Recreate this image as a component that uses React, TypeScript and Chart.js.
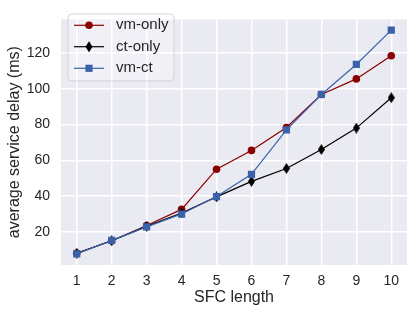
import React, { useEffect, useRef } from 'react';
import { Chart, registerables } from 'chart.js';

Chart.register(...registerables);

const sfcLength = [1, 2, 3, 4, 5, 6, 7, 8, 9, 10];
const vmOnly = [8, 15, 23.5, 32.5, 55, 65.5, 78.3, 96.8, 105.5, 118.5];
const ctOnly = [8, 15, 23, 30.5, 39.5, 48.2, 55.4, 66, 78, 95];
const vmCt = [7.6, 15.2, 22.7, 29.9, 39.7, 52.1, 77, 96.8, 113.6, 132.8];
const yTicks = [20, 40, 60, 80, 100, 120];
const seriesNames = ['vm-only', 'ct-only', 'vm-ct'];
const seriesColors = ['#8b0000', '#000000', '#3b62a9'];
const seriesMarkers = ['circle', 'thinDiamond', 'rect'];

const FONT = '"Liberation Sans", Arial, sans-serif';
const TEXT = '#262626';

function makeThinDiamond(color: string) {
  const c = document.createElement('canvas');
  c.width = 7;
  c.height = 11;
  const ctx = c.getContext('2d')!;
  ctx.fillStyle = color;
  ctx.beginPath();
  ctx.moveTo(3.5, 0);
  ctx.lineTo(7, 5.5);
  ctx.lineTo(3.5, 11);
  ctx.lineTo(0, 5.5);
  ctx.closePath();
  ctx.fill();
  return c;
}

function drawMarker(ctx: CanvasRenderingContext2D, kind: string, x: number, y: number, color: string) {
  ctx.save();
  ctx.fillStyle = color;
  ctx.beginPath();
  if (kind === 'circle') {
    ctx.arc(x, y, 3.8, 0, Math.PI * 2);
  } else if (kind === 'rect') {
    ctx.rect(x - 3.6, y - 3.6, 7.2, 7.2);
  } else {
    ctx.moveTo(x, y - 5.5);
    ctx.lineTo(x + 3.5, y);
    ctx.lineTo(x, y + 5.5);
    ctx.lineTo(x - 3.5, y);
    ctx.closePath();
  }
  ctx.fill();
  ctx.restore();
}

const bgPlugin = {
  id: 'bg',
  beforeDraw(chart: any) {
    const { ctx, chartArea } = chart;
    ctx.save();
    ctx.fillStyle = '#eaeaf2';
    ctx.fillRect(chartArea.left, chartArea.top, chartArea.right - chartArea.left, chartArea.bottom - chartArea.top);
    ctx.restore();
  },
};

const legendPlugin = {
  id: 'customLegend',
  afterDraw(chart: any) {
    const ctx: CanvasRenderingContext2D = chart.ctx;
    const x0 = 68, y0 = 14, w = 106, h = 67, r = 4;
    ctx.save();
    ctx.beginPath();
    ctx.moveTo(x0 + r, y0);
    ctx.lineTo(x0 + w - r, y0);
    ctx.arcTo(x0 + w, y0, x0 + w, y0 + r, r);
    ctx.lineTo(x0 + w, y0 + h - r);
    ctx.arcTo(x0 + w, y0 + h, x0 + w - r, y0 + h, r);
    ctx.lineTo(x0 + r, y0 + h);
    ctx.arcTo(x0, y0 + h, x0, y0 + h - r, r);
    ctx.lineTo(x0, y0 + r);
    ctx.arcTo(x0, y0, x0 + r, y0, r);
    ctx.closePath();
    ctx.fillStyle = 'rgba(255,255,255,0.3)';
    ctx.fill();
    ctx.strokeStyle = 'rgba(204,204,204,0.8)';
    ctx.lineWidth = 1;
    ctx.stroke();
    const rows = [25.3, 46.7, 68.3];
    seriesNames.forEach((name, i) => {
      const yy = rows[i];
      ctx.strokeStyle = seriesColors[i];
      ctx.lineWidth = 1.2;
      ctx.beginPath();
      ctx.moveTo(74, yy);
      ctx.lineTo(104, yy);
      ctx.stroke();
      drawMarker(ctx, seriesMarkers[i], 89, yy, seriesColors[i]);
      ctx.fillStyle = TEXT;
      ctx.font = `15px ${FONT}`;
      ctx.textBaseline = 'middle';
      ctx.textAlign = 'left';
      ctx.fillText(name, 116, yy);
    });
    ctx.restore();
  },
};

export default function App() {
  const ref = useRef<HTMLCanvasElement>(null);
  useEffect(() => {
    document.body.style.margin = '0';
    const series = [vmOnly, ctOnly, vmCt];
    const datasets = series.map((vals, i) => ({
      label: seriesNames[i],
      data: sfcLength.map((x, j) => ({ x, y: vals[j] })),
      borderColor: seriesColors[i],
      backgroundColor: seriesColors[i],
      borderWidth: 1.2,
      pointStyle: seriesMarkers[i] === 'thinDiamond' ? makeThinDiamond(seriesColors[i]) : seriesMarkers[i],
      pointRadius: seriesMarkers[i] === 'rect' ? 5.1 : 3.8,
      pointBorderWidth: 0,
      tension: 0,
    }));
    datasets.forEach((d: any, i) => (d.order = 3 - i));
    const chart = new Chart(ref.current!, {
      type: 'line',
      data: { datasets } as any,
      options: {
        animation: false,
        responsive: false,
        layout: { padding: { left: 0, top: 7, right: 8, bottom: 0 } },
        plugins: { legend: { display: false }, tooltip: { enabled: false } },
        scales: {
          x: {
            type: 'linear',
            min: 0.55,
            max: 10.45,
            afterBuildTicks: (s: any) => {
              s.ticks = sfcLength.map((v) => ({ value: v }));
            },
            afterFit: (s: any) => {
              s.height = 50;
            },
            ticks: { font: { family: FONT, size: 14 }, color: TEXT, padding: 7.5, maxRotation: 0 },
            grid: { color: '#ffffff', lineWidth: 1.5, drawTicks: false },
            border: { display: false },
            title: {
              display: true,
              text: 'SFC length',
              font: { family: FONT, size: 16 },
              color: TEXT,
              padding: { top: 0, bottom: 7.4 },
            },
          },
          y: {
            type: 'linear',
            min: 1.4,
            max: 138.8,
            afterBuildTicks: (s: any) => {
              s.ticks = yTicks.map((v) => ({ value: v }));
            },
            afterFit: (s: any) => {
              s.width = 61;
            },
            ticks: { font: { family: FONT, size: 14 }, color: TEXT, padding: 11 },
            grid: { color: '#ffffff', lineWidth: 1.5, drawTicks: false },
            border: { display: false },
            title: {
              display: true,
              text: 'average service delay (ms)',
              font: { family: FONT, size: 16 },
              color: TEXT,
              padding: { top: 5.4, bottom: 0 },
            },
          },
        },
      },
      plugins: [bgPlugin, legendPlugin],
    } as any);
    return () => chart.destroy();
  }, []);
  return (
    <div style={{ position: 'absolute', left: 0, top: 0, width: 415, height: 315 }}>
      <canvas ref={ref} width={415} height={315} style={{ display: 'block' }} />
    </div>
  );
}
